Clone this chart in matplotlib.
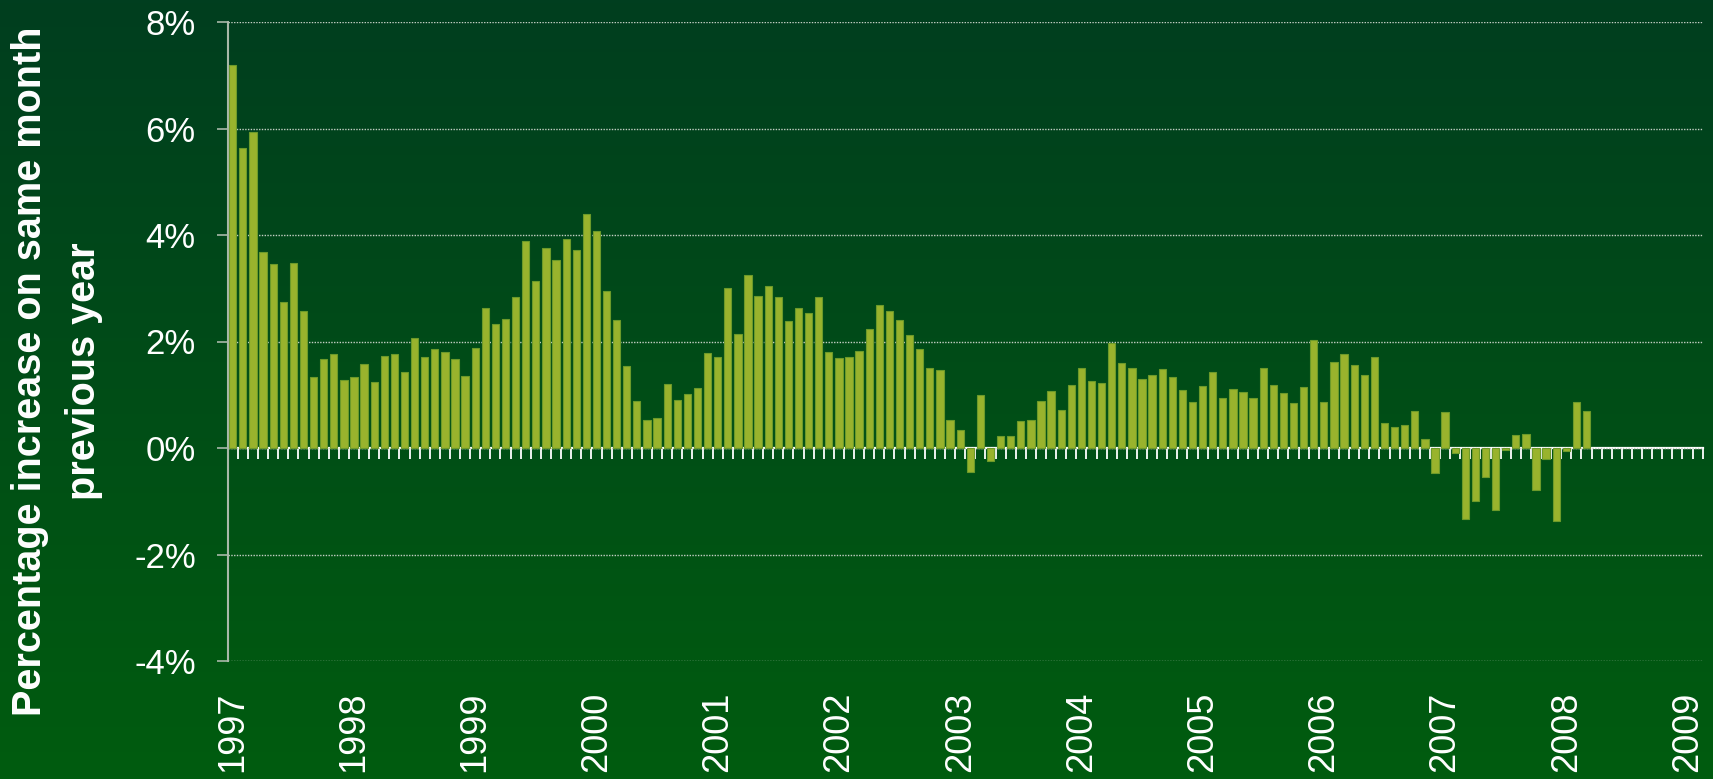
import numpy as np
import matplotlib
matplotlib.use("Agg")
import matplotlib.pyplot as plt
from matplotlib.colors import LinearSegmentedColormap

plt.rcParams['font.family'] = ['Liberation Sans', 'DejaVu Sans']

# monthly change on same month previous year (%), Jan 1997 .. Mar 2008
yoy_change = [
    7.19, 5.64, 5.93, 3.69, 3.45, 2.74, 3.48, 2.58, 1.34, 1.68, 1.76, 1.27,      # 1997
    1.34, 1.58, 1.24, 1.73, 1.76, 1.42, 2.07, 1.70, 1.86, 1.80, 1.68, 1.36,      # 1998
    1.88, 2.63, 2.33, 2.43, 2.84, 3.89, 3.14, 3.76, 3.53, 3.93, 3.72, 4.40,      # 1999
    4.08, 2.94, 2.41, 1.54, 0.89, 0.53, 0.56, 1.20, 0.91, 1.01, 1.13, 1.78,      # 2000
    1.70, 3.00, 2.14, 3.24, 2.85, 3.04, 2.83, 2.38, 2.63, 2.53, 2.83, 1.81,      # 2001
    1.69, 1.71, 1.83, 2.23, 2.68, 2.58, 2.41, 2.12, 1.86, 1.50, 1.47, 0.53,      # 2002
    0.34, -0.45, 1.00, -0.25, 0.22, 0.23, 0.51, 0.53, 0.88, 1.07, 0.72, 1.18,    # 2003
    1.50, 1.26, 1.22, 1.98, 1.60, 1.50, 1.30, 1.38, 1.48, 1.33, 1.08, 0.86,      # 2004
    1.16, 1.42, 0.93, 1.11, 1.06, 0.94, 1.50, 1.18, 1.03, 0.85, 1.14, 2.03,      # 2005
    0.86, 1.62, 1.76, 1.55, 1.38, 1.71, 0.47, 0.40, 0.43, 0.70, 0.17, -0.47,     # 2006
    0.67, -0.09, -1.33, -0.99, -0.55, -1.16, -0.04, 0.25, 0.27, -0.78, -0.21, -1.37,  # 2007
    -0.05, 0.87, 0.69,                                                            # 2008
]
n_months = 146  # category axis runs Jan 1997 .. Feb 2009
year_labels = [str(y) for y in range(1997, 2010)]
y_ticks = [-4, -2, 0, 2, 4, 6, 8]

fig = plt.figure(figsize=(17.13, 7.79), dpi=100)

# gradient background
bg = fig.add_axes([0, 0, 1, 1], zorder=-10)
grad_cmap = LinearSegmentedColormap.from_list("bg", ["#003e1f", "#005c0f"])
bg.imshow(np.linspace(0, 1, 256).reshape(-1, 1), aspect="auto", cmap=grad_cmap,
          extent=[0, 1, 0, 1])
bg.set_axis_off()

ax = fig.add_axes([227.7 / 1713, 118 / 779, 1475 / 1713, 639 / 779])
ax.set_facecolor("none")

x = np.arange(len(yoy_change))
ax.bar(x, yoy_change, width=0.72, color="#99b32d", edgecolor="#6c9a2a",
       linewidth=0.8, zorder=3)

ax.set_xlim(-0.5, n_months - 0.5)
ax.set_ylim(-4, 8)

ax.set_yticks(y_ticks)
ax.set_yticklabels([f"{v}%" for v in y_ticks])
ax.tick_params(axis="y", colors="#a9b8a9", length=8, width=1.2, pad=15,
               labelsize=25, labelcolor="white")
ax.yaxis.grid(True, color="#c4cec4", linestyle=(0, (1, 1)), linewidth=1.0)
ax.set_axisbelow(True)

ax.set_xticks(np.arange(0, n_months, 12))
ax.set_xticklabels(year_labels, rotation=90, va="top")
ax.tick_params(axis="x", length=0, pad=22, labelsize=26, labelcolor="white")

for side in ("top", "right", "bottom"):
    ax.spines[side].set_visible(False)
ax.spines["left"].set_color("#a9b8a9")
ax.spines["left"].set_linewidth(1.5)

# zero line with category tick marks
zero_frac = (0 - (-4)) / 12
zax = ax.secondary_xaxis(zero_frac)
zax.set_xticks(np.arange(0.5, n_months, 1))
zax.set_xticklabels([])
zax.tick_params(axis="x", direction="out", length=8, width=1.3, color="white")
zax.spines["bottom"].set_color("white")
zax.spines["bottom"].set_linewidth(1.6)

fig.text(30 / 1713, 1 - 371 / 779, "Percentage increase on same month",
         rotation=90, ha="center", va="center", fontsize=28.5,
         fontweight="bold", color="white")
fig.text(84 / 1713, 1 - 371 / 779, "previous year",
         rotation=90, ha="center", va="center", fontsize=28.5,
         fontweight="bold", color="white")

fig.savefig("out.png", dpi=100)
